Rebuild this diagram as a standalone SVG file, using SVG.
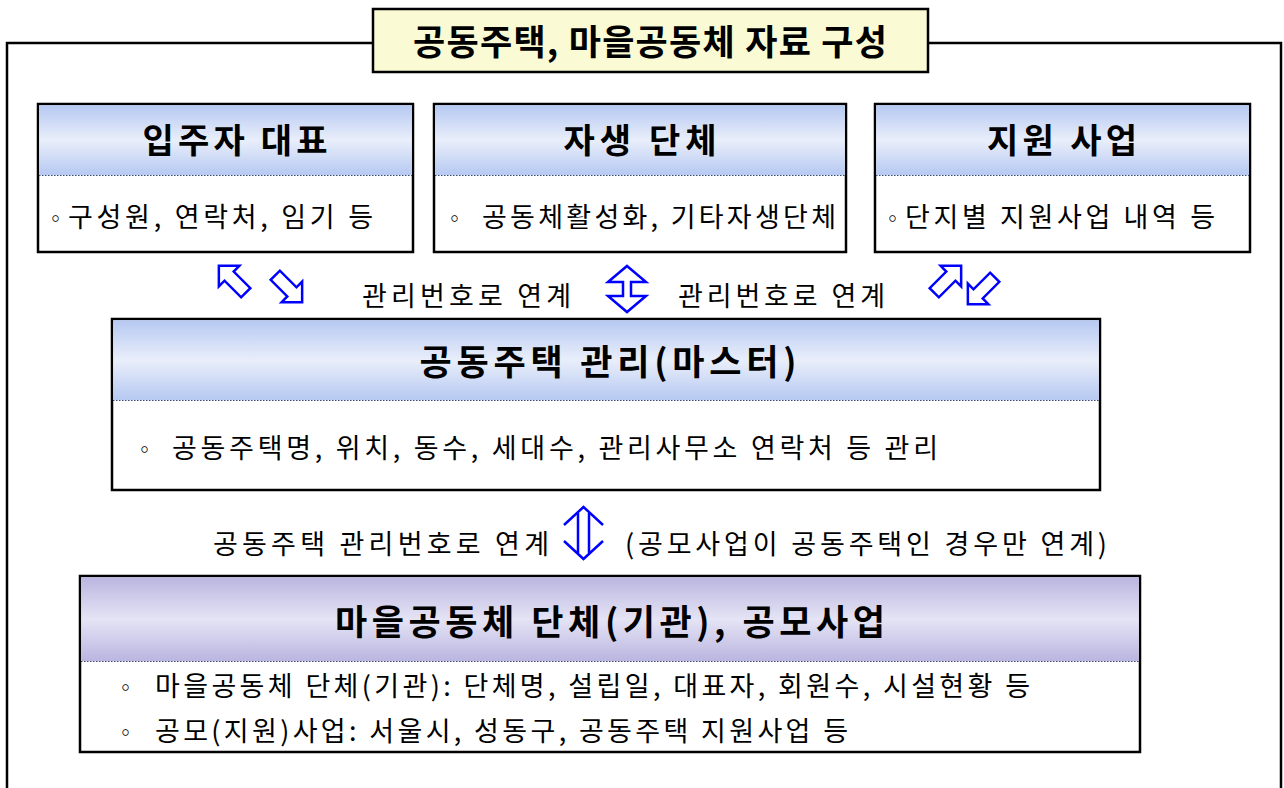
<svg xmlns="http://www.w3.org/2000/svg" width="1284" height="788" viewBox="0 0 1284 788">
<defs>
<linearGradient id="gBlue" x1="0" y1="0" x2="0" y2="1">
<stop offset="0" stop-color="#B6C9F2"/>
<stop offset="0.5" stop-color="#E9EEFA"/>
<stop offset="1" stop-color="#B6C9F2"/>
</linearGradient>
<linearGradient id="gPurple" x1="0" y1="0" x2="0" y2="1">
<stop offset="0" stop-color="#B9B5E0"/>
<stop offset="0.5" stop-color="#E5E4F5"/>
<stop offset="1" stop-color="#B9B5E0"/>
</linearGradient>
<path id="blk" d="M0,-20 L14.5,-5.5 L6.5,-5.5 L6.5,18 L-6.5,18 L-6.5,-5.5 L-14.5,-5.5 Z"/>
</defs>
<style>
text{font-family:"Noto Sans CJK KR","Noto Sans",sans-serif;fill:#000}
.hd{font-size:34px;font-weight:bold;text-anchor:middle}
.tt{font-size:35px;font-weight:bold;text-anchor:middle}
.bd{font-size:27px}
.bl{font-size:21px}
.frame{fill:none;stroke:#000;stroke-width:2.5}
.box{fill:#fff;stroke:#000;stroke-width:2.5}
.sep{stroke:#3A4A6A;stroke-width:1;stroke-dasharray:1.5 1.5}
.arr{fill:#fff;stroke:#0000FF;stroke-width:2.5;stroke-linejoin:miter}
.thin{fill:none;stroke:#0000FF;stroke-width:2.5}
</style>
<rect width="1284" height="788" fill="#fff"/>

<g id="frame">
<path class="frame" d="M7,788 L7,43 L373,43 M928,43 L1281,43 L1281,788"/>
</g>

<g id="title">
<rect x="373" y="9" width="555" height="63" fill="#FAFAD4" stroke="#000" stroke-width="2.5"/>
<text class="tt" x="650" y="55" textLength="474" lengthAdjust="spacing">공동주택, 마을공동체 자료 구성</text>
</g>

<g id="node-resident">
<rect class="box" x="38" y="104" width="375" height="148"/>
<rect x="39.2" y="105.2" width="372.6" height="70" fill="url(#gBlue)"/>
<line class="sep" x1="39" y1="175.5" x2="412" y2="175.5"/>
<text class="hd" x="235" y="153" textLength="185" lengthAdjust="spacing">입주자 대표</text>
<text class="bl" x="45" y="226">◦</text>
<text class="bd" x="68" y="227" textLength="305" lengthAdjust="spacing">구성원, 연락처, 임기 등</text>
</g>

<g id="node-group">
<rect class="box" x="434" y="104" width="412" height="148"/>
<rect x="435.2" y="105.2" width="409.6" height="70" fill="url(#gBlue)"/>
<line class="sep" x1="435" y1="175.5" x2="845" y2="175.5"/>
<text class="hd" x="640" y="153" textLength="153" lengthAdjust="spacing">자생 단체</text>
<text class="bl" x="444" y="226">◦</text>
<text class="bd" x="482" y="227" textLength="354" lengthAdjust="spacing">공동체활성화, 기타자생단체</text>
</g>

<g id="node-support">
<rect class="box" x="875" y="104" width="375" height="148"/>
<rect x="876.2" y="105.2" width="372.6" height="70" fill="url(#gBlue)"/>
<line class="sep" x1="876" y1="175.5" x2="1249" y2="175.5"/>
<text class="hd" x="1062" y="153" textLength="150" lengthAdjust="spacing">지원 사업</text>
<text class="bl" x="882" y="226">◦</text>
<text class="bd" x="905" y="227" textLength="310" lengthAdjust="spacing">단지별 지원사업 내역 등</text>
</g>

<g id="node-master">
<rect class="box" x="112" y="319" width="988" height="171"/>
<rect x="113.2" y="320.2" width="985.6" height="80" fill="url(#gBlue)"/>
<line class="sep" x1="113" y1="400.5" x2="1099" y2="400.5"/>
<text class="tt" x="608" y="375" textLength="377" lengthAdjust="spacing">공동주택 관리(마스터)</text>
<text class="bl" x="134" y="457">◦</text>
<text class="bd" x="172" y="458" textLength="766" lengthAdjust="spacing">공동주택명, 위치, 동수, 세대수, 관리사무소 연락처 등 관리</text>
</g>

<g id="node-community">
<rect class="box" x="80" y="576" width="1060" height="176"/>
<rect x="81.2" y="577.2" width="1057.6" height="84" fill="url(#gPurple)"/>
<line class="sep" x1="81" y1="661.5" x2="1139" y2="661.5"/>
<text class="tt" x="610" y="635" textLength="550" lengthAdjust="spacing">마을공동체 단체(기관), 공모사업</text>
<text class="bl" x="115" y="695">◦</text>
<text class="bd" x="155" y="696" textLength="875" lengthAdjust="spacing">마을공동체 단체(기관): 단체명, 설립일, 대표자, 회원수, 시설현황 등</text>
<text class="bl" x="115" y="740">◦</text>
<text class="bd" x="155" y="741" textLength="693" lengthAdjust="spacing">공모(지원)사업: 서울시, 성동구, 공동주택 지원사업 등</text>
</g>

<g id="connectors">
<use href="#blk" class="arr" transform="translate(233,280) rotate(-45)"/>
<use href="#blk" class="arr" transform="translate(288,288) rotate(135)"/>
<use href="#blk" class="arr" transform="translate(947,280) rotate(45)"/>
<use href="#blk" class="arr" transform="translate(982,290) rotate(-135)"/>
<path class="arr" d="M627,266 L646,282 L631,282 L631,296 L646,296 L627,312 L608,296 L623,296 L623,282 L608,282 Z"/>
<text class="bd" x="362" y="306" textLength="209" lengthAdjust="spacing">관리번호로 연계</text>
<text class="bd" x="678" y="306" textLength="207" lengthAdjust="spacing">관리번호로 연계</text>
<path class="thin" d="M564,525 L583.5,507 L603,525 M564,541 L583.5,559 L603,541 M578,513 L578,553 M589,513 L589,553"/>
<text class="bd" x="213" y="554" textLength="336" lengthAdjust="spacing">공동주택 관리번호로 연계</text>
<text class="bd" x="625" y="554" textLength="482" lengthAdjust="spacing">(공모사업이 공동주택인 경우만 연계)</text>
</g>
</svg>
